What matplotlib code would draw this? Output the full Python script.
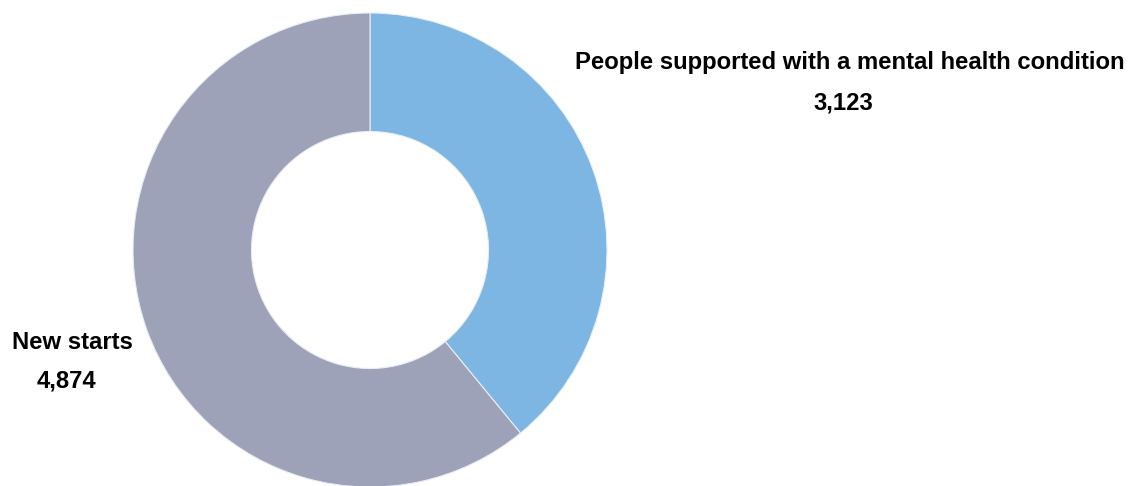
import matplotlib.pyplot as plt

# Donut data: clockwise from 12 o'clock
labels = ["People supported with a mental health condition", "New starts"]
values = [3123, 4874]
colors = ["#7db6e2", "#9ea2b8"]

plt.rcParams["font.family"] = ["Liberation Sans", "DejaVu Sans"]

W, H = 1137, 486
fig = plt.figure(figsize=(W / 100, H / 100), dpi=100)

# centre at (370, 250) px, outer radius 237 px
cx, cy, r = 370, 250, 237
ax = fig.add_axes([(cx - r) / W, (H - cy - r) / H, 2 * r / W, 2 * r / H])
ax.pie(values, colors=colors, startangle=90, counterclock=False, radius=1,
       wedgeprops=dict(width=0.5, edgecolor="#e8eef5", linewidth=0.8))
ax.set_xlim(-1, 1)
ax.set_ylim(-1, 1)
ax.set_aspect("equal")
ax.axis("off")


def px_text(x, y, s):
    fig.text(x / W, 1 - y / H, s, ha="center", va="center",
             fontsize=17.2, fontweight="bold", color="#000000")


px_text(850, 62, labels[0])
px_text(843, 103, f"{values[0]:,}")
px_text(72, 342, labels[1])
px_text(66, 381, f"{values[1]:,}")

fig.savefig("out.png", dpi=100)
